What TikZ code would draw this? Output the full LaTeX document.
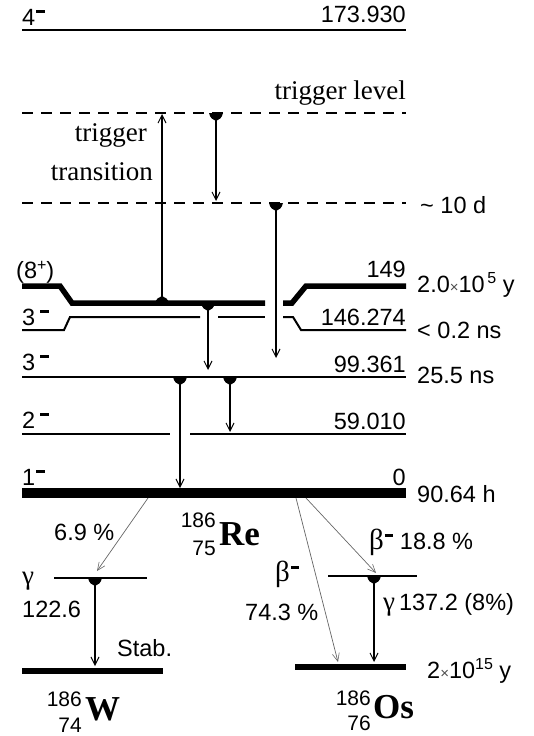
\documentclass[tikz,border=0pt]{standalone}
\usepackage{fontspec}
\setmainfont{Liberation Serif}
\newfontfamily\sansf{Liberation Sans}
\usetikzlibrary{arrows.meta}

% raised minus used in spin-parity labels
\newcommand\upm{\kern1pt\raisebox{12.5pt}{\rule{8.5pt}{2.3pt}}}
% filled drop below a level (start of a downward transition)
\newcommand\dropdot[1]{\fill[shift={(#1)}] (-7,0) .. controls (-6,5) and (-3,7) .. (0,8) .. controls (3,7) and (6,5) .. (7,0) -- cycle;}
% filled bump above a level (start of an upward transition)
\newcommand\bumpdot[1]{\fill[shift={(#1)}] (-7,0) .. controls (-6,-4) and (-3,-6) .. (0,-7) .. controls (3,-6) and (6,-4) .. (7,0) -- cycle;}

\tikzset{
  lbl/.style={inner sep=0pt, font=\sansf\fontsize{23.5}{28}\selectfont},
  ser/.style={inner sep=0pt, font=\fontsize{27}{32}\selectfont},
  mass/.style={inner sep=0pt, font=\sansf\fontsize{21}{24}\selectfont, anchor=base east},
  elem/.style={inner sep=0pt, font=\bfseries\fontsize{35}{40}\selectfont, anchor=base west},
  level/.style={line width=2pt},
  thicklevel/.style={line width=5.5pt},
  ground/.style={line width=9.5pt},
  finallevel/.style={line width=6pt},
  dashlevel/.style={line width=2pt, dash pattern=on 11pt off 8pt},
  trans/.style={line width=1.6pt, -{Straight Barb[length=8pt,width=8pt,line width=1pt]}},
  feed/.style={line width=0.7pt, draw=black!60, -{Straight Barb[length=8pt,width=7pt,line width=0.6pt]}},
}

\begin{document}
\begin{tikzpicture}[x=1pt, y=-1pt]
\useasboundingbox (0,0) rectangle (533,736);

% ---------------- levels of 186Re ----------------
\draw[level] (22,30) -- (406,30);
\draw[dashlevel] (22,113) -- (406,113);
\draw[dashlevel] (22,203) -- (406,203);
% isomer (8+)
\draw[thicklevel] (22,286) -- (60,286) -- (72,303) -- (265,303);
\draw[thicklevel] (283,303) -- (292,303) -- (306,286) -- (406,286);
% 3- at 146.274
\draw[level] (22,330) -- (64,330) -- (70,317) -- (200,317);
\draw[level] (218,317) -- (265,317);
\draw[level] (283,317) -- (293,317) -- (301,330) -- (406,330);
% 3- at 99.361
\draw[level] (22,377) -- (406,377);
% 2- at 59.010
\draw[level] (22,434) -- (170,434);
\draw[level] (190,434) -- (406,434);
% ground state
\draw[ground] (22,493) -- (406,493);

% ---------------- daughter levels ----------------
\draw[level] (54,578) -- (147,578);
\draw[finallevel] (22,671) -- (163,671);
\draw[level] (328,576) -- (417,576);
\draw[finallevel] (295,667) -- (406,667);

% ---------------- transition end points ----------------
\coordinate (up0) at (162,303);  \coordinate (up1) at (162,114);
\coordinate (tr0) at (216,113);  \coordinate (tr1) at (216,201);
\coordinate (td0) at (276,203);  \coordinate (td1) at (276,358);
\coordinate (is0) at (208,303);  \coordinate (is1) at (208,370);
\coordinate (a0) at (180,377);   \coordinate (a1) at (180,488);
\coordinate (b0) at (230,377);   \coordinate (b1) at (230,432);
\coordinate (w0) at (95,578);    \coordinate (w1) at (95,666);
\coordinate (o0) at (374,576);   \coordinate (o1) at (374,662);
\coordinate (ec0) at (148,498);  \coordinate (ec1) at (97,571);
\coordinate (bt0) at (296,498);  \coordinate (bt1) at (338,662);
\coordinate (bg0) at (306,498);  \coordinate (bg1) at (376,573);

\bumpdot{up0}
\dropdot{tr0} \dropdot{td0} \dropdot{is0}
\dropdot{a0} \dropdot{b0} \dropdot{w0} \dropdot{o0}

\draw[trans] (up0) -- (up1);
\draw[trans] (tr0) -- (tr1);
\draw[trans] (td0) -- (td1);
\draw[trans] (is0) -- (is1);
\draw[trans] (a0) -- (a1);
\draw[trans] (b0) -- (b1);
\draw[trans] (w0) -- (w1);
\draw[trans] (o0) -- (o1);
\draw[feed] (ec0) -- (ec1);
\draw[feed] (bt0) -- (bt1);
\draw[feed] (bg0) -- (bg1);

% ---------------- labels ----------------
\node[lbl, anchor=base west] (j4) at (22,25) {4\upm};
\node[lbl, anchor=base east] (e4) at (406,23) {173.930};
\node[ser, anchor=base east] (trl) at (406,99) {trigger level};
\node[ser, anchor=base east] (trt1) at (147,141) {trigger};
\node[ser, anchor=base east] (trt2) at (153,180) {transition};
\node[lbl, anchor=base west] (t10) at (420,213) {\textasciitilde{} 10 d};

\node[lbl, anchor=base west] (j8) at (16,278) {(8\raisebox{8pt}{\fontsize{16}{16}\selectfont +})};
\node[lbl, anchor=base east] (e8) at (406,277) {149};
\node[lbl, anchor=base west] (t8) at (417,292) {2.0{\fontsize{15}{15}\selectfont\color{black!70}×}10\raisebox{9pt}{\fontsize{16}{16}\selectfont\,5} y};

\node[lbl, anchor=base west] (j3a) at (22,325) {3\,\upm};
\node[lbl, anchor=base east] (e3a) at (406,325) {146.274};
\node[lbl, anchor=base west] (t3a) at (417,338) {< 0.2 ns};

\node[lbl, anchor=base west] (j3b) at (22,370) {3\,\upm};
\node[lbl, anchor=base east] (e3b) at (406,372) {99.361};
\node[lbl, anchor=base west] (t3b) at (417,383) {25.5 ns};

\node[lbl, anchor=base west] (j2) at (22,428) {2\,\upm};
\node[lbl, anchor=base east] (e2) at (406,429) {59.010};

\node[lbl, anchor=base west] (j1) at (22,485) {1\upm};
\node[lbl, anchor=base east] (e1) at (406,485) {0};
\node[lbl, anchor=base west] (t1) at (417,502) {90.64 h};

% parent nucleus
\node[mass] (rem) at (216,527) {186};
\node[mass] (rez) at (216,555) {75};
\node[elem] (re) at (219,545) {Re};

% decay branches
\node[lbl, anchor=base west] (ecp) at (54,540) {6.9 \%};
\node[lbl, anchor=base west] (bgp) at (369,549) {{\rmfamily\fontsize{29}{32}\selectfont β}\upm\ 18.8 \%};
\node[lbl, anchor=base west] (btb) at (275,581) {{\rmfamily\fontsize{29}{32}\selectfont β}\upm};
\node[lbl, anchor=base west] (btp) at (245,620) {74.3 \%};
\node[lbl, anchor=base west] (og) at (383,610) {{\rmfamily\fontsize{27}{30}\selectfont γ}\,137.2 (8\%)};
\node[lbl, anchor=base west] (wg) at (22,584) {{\rmfamily\fontsize{27}{30}\selectfont γ}};
\node[lbl, anchor=base west] (we) at (22,617) {122.6};
\node[lbl, anchor=base west] (ws) at (117,656) {Stab.};
\node[lbl, anchor=base west] (ot) at (427,678) {2{\fontsize{15}{15}\selectfont\color{black!70}×}10\raisebox{9pt}{\fontsize{16}{16}\selectfont 15} y};

% daughter nuclei
\node[mass] (wm) at (82,706) {186};
\node[mass] (wz) at (82,732) {74};
\node[elem] (w) at (85,720) {W};
\node[mass] (osm) at (371,705) {186};
\node[mass] (osz) at (371,730) {76};
\node[elem] (os) at (373,718) {Os};
\end{tikzpicture}
\end{document}
